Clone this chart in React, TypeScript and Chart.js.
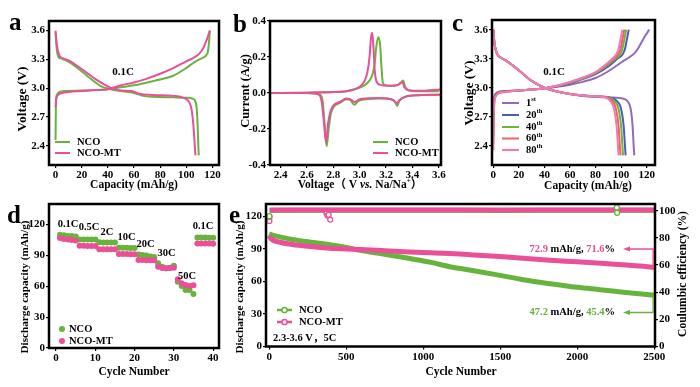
import React, { useEffect, useRef } from "react";
import { Chart, registerables } from "chart.js";

Chart.register(...registerables);

const FONT = "'Liberation Serif', 'Times New Roman', 'Noto Sans CJK SC', serif";
const GREEN = "#66b43c";
const PINK = "#ea4f98";
const C1 = "#8f6bbf";
const C20 = "#4a5cc0";
const C40 = "#68b834";
const C60 = "#f26060";
const C80 = "#f07ab5";

// ---------- Panel a: charge/discharge at 0.1C ----------
const aNcoChgCap = [0, 0.3, 1, 3, 10, 20, 30, 40, 50, 60, 70, 80, 90, 100, 105, 110, 113, 115, 116.5, 117.5, 118];
const aNcoChgV = [2.46, 2.85, 2.93, 2.96, 2.97, 2.975, 2.98, 2.99, 3.01, 3.03, 3.06, 3.09, 3.13, 3.21, 3.26, 3.3, 3.32, 3.34, 3.38, 3.5, 3.6];
const aMtChgCap = [0, 0.5, 2, 5, 10, 20, 30, 40, 50, 60, 70, 80, 90, 100, 106, 110, 113, 116, 118];
const aMtChgV = [2.8, 2.88, 2.93, 2.95, 2.96, 2.97, 2.98, 2.99, 3.03, 3.06, 3.1, 3.15, 3.21, 3.28, 3.32, 3.36, 3.42, 3.52, 3.6];
const aNcoDisCap = [0, 1, 2, 4, 8, 15, 25, 35, 42, 50, 60, 67, 75, 90, 100, 105, 107, 108, 108.7, 109.2, 109.5];
const aNcoDisV = [3.58, 3.4, 3.33, 3.31, 3.29, 3.23, 3.12, 3.02, 2.99, 2.97, 2.95, 2.92, 2.91, 2.905, 2.9, 2.89, 2.86, 2.78, 2.6, 2.4, 2.3];
const aMtDisCap = [0, 1, 3, 6, 10, 20, 30, 40, 48, 58, 65, 75, 90, 98, 102, 104, 105.5, 106.5, 107];
const aMtDisV = [3.6, 3.45, 3.34, 3.31, 3.29, 3.2, 3.1, 3.02, 2.98, 2.97, 2.94, 2.93, 2.92, 2.9, 2.86, 2.78, 2.6, 2.4, 2.3];
const aXTicks = [0, 20, 40, 60, 80, 100, 120];
const aYTicks = [2.4, 2.7, 3.0, 3.3, 3.6];

// ---------- Panel b: CV ----------
const bNcoAnoV = [2.3, 2.6, 2.8, 2.9, 2.95, 3.0, 3.05, 3.08, 3.1, 3.115, 3.125, 3.14, 3.155, 3.165, 3.175, 3.19, 3.25, 3.29, 3.31, 3.33, 3.345, 3.37, 3.45, 3.6];
const bNcoAnoI = [0, 0.002, 0.005, 0.01, 0.018, 0.03, 0.05, 0.075, 0.11, 0.17, 0.25, 0.31, 0.27, 0.15, 0.06, 0.045, 0.04, 0.045, 0.055, 0.07, 0.035, 0.015, 0.01, 0.01];
const bMtAnoV = [2.3, 2.6, 2.8, 2.9, 2.95, 3.0, 3.04, 3.06, 3.075, 3.085, 3.095, 3.105, 3.115, 3.13, 3.16, 3.2, 3.25, 3.29, 3.31, 3.325, 3.34, 3.37, 3.45, 3.62];
const bMtAnoI = [0, 0.002, 0.005, 0.01, 0.018, 0.035, 0.07, 0.12, 0.2, 0.3, 0.335, 0.25, 0.12, 0.06, 0.045, 0.04, 0.04, 0.045, 0.055, 0.06, 0.03, 0.015, 0.012, 0.02];
const bNcoCatV = [2.3, 2.6, 2.7, 2.72, 2.735, 2.75, 2.765, 2.78, 2.8, 2.85, 2.9, 2.93, 2.96, 2.99, 3.05, 3.15, 3.24, 3.27, 3.285, 3.3, 3.35, 3.45, 3.6];
const bNcoCatI = [0, 0, -0.01, -0.05, -0.18, -0.295, -0.2, -0.12, -0.08, -0.055, -0.035, -0.04, -0.065, -0.045, -0.035, -0.03, -0.035, -0.05, -0.072, -0.045, -0.02, -0.012, -0.01];
const bMtCatV = [2.3, 2.6, 2.68, 2.71, 2.73, 2.745, 2.76, 2.78, 2.8, 2.85, 2.9, 2.93, 2.96, 3.0, 3.05, 3.15, 3.24, 3.27, 3.28, 3.3, 3.35, 3.45, 3.62];
const bMtCatI = [0, 0, -0.005, -0.04, -0.17, -0.275, -0.17, -0.1, -0.07, -0.05, -0.03, -0.035, -0.05, -0.035, -0.03, -0.028, -0.035, -0.05, -0.06, -0.04, -0.02, -0.012, -0.01];
const bXTicks = [2.4, 2.6, 2.8, 3.0, 3.2, 3.4, 3.6];
const bYTicks = [-0.4, -0.2, 0, 0.2, 0.4];

// ---------- Panel c: cycles at 0.1C ----------
const c1ChgCap = [0, 0.5, 2, 5, 10, 20, 30, 40, 50, 60, 70, 80, 90, 100, 107, 110, 113, 116, 119, 122];
const c1ChgV = [2.75, 2.88, 2.94, 2.96, 2.965, 2.97, 2.98, 2.995, 3.01, 3.03, 3.06, 3.1, 3.17, 3.26, 3.32, 3.35, 3.4, 3.47, 3.54, 3.6];
const c20ChgCap = [0, 0.5, 2, 5, 10, 20, 30, 40, 50, 60, 70, 80, 91, 97, 101, 103, 104.5, 106];
const c20ChgV = [2.6, 2.85, 2.93, 2.955, 2.962, 2.97, 2.98, 2.995, 3.015, 3.045, 3.09, 3.14, 3.23, 3.3, 3.34, 3.4, 3.5, 3.6];
const c40ChgCap = [0, 0.5, 2, 5, 10, 20, 30, 40, 50, 60, 70, 80, 90, 95.5, 99, 101, 102.5, 104];
const c40ChgV = [2.5, 2.83, 2.92, 2.95, 2.96, 2.97, 2.98, 2.995, 3.02, 3.05, 3.095, 3.15, 3.24, 3.3, 3.34, 3.4, 3.5, 3.6];
const c60ChgCap = [0, 0.5, 2, 5, 10, 20, 30, 40, 50, 60, 70, 80, 89, 94, 97.5, 99.5, 101, 102.5];
const c60ChgV = [2.42, 2.8, 2.92, 2.95, 2.96, 2.97, 2.98, 2.995, 3.02, 3.055, 3.1, 3.155, 3.24, 3.3, 3.34, 3.4, 3.5, 3.6];
const c80ChgCap = [0, 0.5, 2, 5, 10, 20, 30, 40, 50, 60, 70, 80, 88, 93, 96, 98, 99.5, 101];
const c80ChgV = [2.35, 2.78, 2.91, 2.945, 2.955, 2.97, 2.98, 2.995, 3.02, 3.06, 3.105, 3.16, 3.24, 3.3, 3.34, 3.4, 3.5, 3.6];
const c1DisCap = [0, 1, 3, 6, 10, 20, 30, 40, 50, 60, 70, 80, 90, 100, 105, 107.5, 109, 109.8, 110.3];
const c1DisV = [3.6, 3.45, 3.35, 3.31, 3.28, 3.18, 3.07, 3.0, 2.96, 2.935, 2.915, 2.905, 2.9, 2.89, 2.86, 2.78, 2.6, 2.4, 2.3];
const c20DisCap = [0, 1, 3, 6, 10, 20, 30, 40, 50, 60, 70, 80, 90, 96, 100, 102, 103, 103.5];
const c20DisV = [3.6, 3.45, 3.35, 3.31, 3.28, 3.18, 3.07, 3.0, 2.96, 2.935, 2.92, 2.91, 2.9, 2.87, 2.78, 2.6, 2.4, 2.3];
const c40DisCap = [0, 1, 3, 6, 10, 20, 30, 40, 50, 60, 70, 80, 89, 94, 98, 100, 101, 101.5];
const c40DisV = [3.6, 3.45, 3.35, 3.31, 3.28, 3.18, 3.07, 3.0, 2.96, 2.935, 2.92, 2.91, 2.9, 2.87, 2.78, 2.6, 2.4, 2.3];
const c60DisCap = [0, 1, 3, 6, 10, 20, 30, 40, 50, 60, 70, 80, 88, 92.5, 96, 98, 99, 99.5];
const c60DisV = [3.6, 3.45, 3.35, 3.31, 3.28, 3.18, 3.07, 3.0, 2.96, 2.935, 2.92, 2.91, 2.9, 2.87, 2.78, 2.6, 2.4, 2.3];
const c80DisCap = [0, 1, 3, 6, 10, 20, 30, 40, 50, 60, 70, 80, 87, 91, 94.5, 96.5, 97.5, 98];
const c80DisV = [3.6, 3.45, 3.35, 3.31, 3.28, 3.18, 3.07, 3.0, 2.96, 2.935, 2.92, 2.91, 2.9, 2.87, 2.78, 2.6, 2.4, 2.3];
const cXTicks = [0, 20, 40, 60, 80, 100, 120];
const cYTicks = [2.4, 2.7, 3.0, 3.3, 3.6];

// ---------- Panel d: rate performance ----------
const dCycles = [1, 2, 3, 4, 5, 6, 7, 8, 9, 10, 11, 12, 13, 14, 15, 16, 17, 18, 19, 20, 21, 22, 23, 24, 25, 26, 27, 28, 29, 30, 31, 32, 33, 34, 35, 36, 37, 38, 39, 40];
const dNco = [110, 109.5, 109, 109, 108.5, 105.6, 105.5, 105.5, 105.4, 105.4, 102.7, 102.6, 102.6, 102.5, 102.5, 97.5, 97.4, 97.4, 97.3, 97.3, 91, 90.5, 90, 89, 88.5, 82.3, 79, 77.5, 78, 80, 64.5, 60.3, 56.4, 56.4, 52.6, 107.5, 107.4, 107.4, 107.3, 107.3];
const dMt = [107, 106, 105.5, 105, 104.5, 99.3, 99.3, 99.2, 99.2, 99.1, 96.1, 96.1, 96, 96, 96, 91.3, 91.3, 91.3, 91.2, 91.2, 85.5, 85.5, 85.4, 85.4, 85.3, 79, 77.8, 77.6, 77.8, 78, 66.8, 62.9, 61.3, 60.3, 61, 101.6, 101.6, 101.5, 101.5, 101.4];
const dRateLabels = ["0.1C", "0.5C", "2C", "10C", "20C", "30C", "50C", "0.1C"];
const dXTicks = [0, 10, 20, 30, 40];
const dYTicks = [0, 30, 60, 90, 120];

// ---------- Panel e: long cycling at 5C ----------
const eNcoCycles = [0, 20, 70, 150, 250, 373, 500, 589, 750, 914, 1050, 1174, 1300, 1499, 1650, 1824, 2000, 2149, 2300, 2500];
const eNcoCap = [104, 102.5, 101, 98.5, 96.5, 94.2, 91.3, 88.6, 85, 81, 77.5, 73.5, 70.5, 65.5, 61.5, 57.8, 54.5, 52.3, 50, 47.2];
const eMtCycles = [0, 10, 70, 150, 250, 373, 500, 589, 750, 914, 1050, 1174, 1300, 1500, 1824, 2000, 2200, 2474, 2500];
const eMtCap = [102, 99.5, 96, 94, 92.3, 90.7, 89.8, 89.3, 88.2, 87, 86.3, 85.6, 84.6, 82.8, 79.4, 78, 76.2, 73.3, 72.9];
const eCeCycles = [3, 500, 1000, 1500, 2000, 2500];
const eNcoCe = [100.3, 100.4, 100.4, 100.3, 100.4, 100.4];
const eMtCe = [100.5, 100.5, 100.5, 100.5, 100.5, 100.5];
const eMtCeOutCycles = [1, 2, 372, 378, 386, 396];
const eMtCeOut = [92.5, 95.5, 98, 96.5, 97, 93.5];
const eNcoCeOutCycles = [1, 2257, 2259];
const eNcoCeOut = [96, 102.5, 98.5];
const eXTicks = [0, 500, 1000, 1500, 2000, 2500];
const eYTicks = [0, 30, 60, 90, 120];
const eY2Ticks = [0, 20, 40, 60, 80, 100];

// ---------- helpers ----------
type Part = { t: string; c?: string; i?: boolean; sup?: boolean };

function drawRich(ctx: CanvasRenderingContext2D, parts: Part[], x: number, y: number, size: number, align = "left", rot = 0, base: CanvasTextBaseline = "middle") {
  ctx.save();
  ctx.translate(x, y);
  if (rot) ctx.rotate(rot);
  ctx.textBaseline = base;
  ctx.textAlign = "left";
  const fontFor = (p: Part) => `${p.i ? "italic " : ""}bold ${p.sup ? size * 0.62 : size}px ${FONT}`;
  let w = 0;
  for (const p of parts) {
    ctx.font = fontFor(p);
    w += ctx.measureText(p.t).width;
  }
  let cx = align === "left" ? 0 : align === "center" ? -w / 2 : -w;
  for (const p of parts) {
    ctx.font = fontFor(p);
    ctx.fillStyle = p.c || "#000";
    ctx.fillText(p.t, cx, p.sup ? -size * 0.32 : 0);
    cx += ctx.measureText(p.t).width;
  }
  ctx.restore();
}

function txt(ctx: CanvasRenderingContext2D, t: string, x: number, y: number, size: number, align = "left", rot = 0) {
  drawRich(ctx, [{ t }], x, y, size, align, rot);
}

function axis(pos: string, min: number, max: number, ticks: number[], fmt: (v: number) => string, thick: number) {
  const vertical = pos === "left" || pos === "right";
  return {
    type: "linear",
    position: pos,
    min,
    max,
    afterBuildTicks: (s: any) => {
      s.ticks = ticks.map((v) => ({ value: v }));
    },
    afterFit: (s: any) => {
      if (vertical) s.width = thick;
      else s.height = thick;
    },
    ticks: {
      callback: (v: any) => fmt(Number(v)),
      font: { family: FONT, weight: "bold", size: 11 },
      color: "#000",
      padding: 1,
      maxRotation: 0,
      autoSkip: false,
    },
    grid: { display: true, drawOnChartArea: false, drawTicks: true, tickLength: 3, color: "#000", lineWidth: 1.2 },
    border: { display: false },
  };
}

function curve(xs: number[], ys: number[], color: string, width = 2, extra: any = {}) {
  return {
    data: xs.map((x, i) => ({ x, y: ys[i] })),
    showLine: true,
    borderColor: color,
    backgroundColor: color,
    borderWidth: width,
    pointRadius: 0,
    cubicInterpolationMode: "monotone",
    fill: false,
    ...extra,
  };
}

function dots(xs: number[], ys: number[], color: string, extra: any = {}) {
  return {
    data: xs.map((x, i) => ({ x, y: ys[i] })),
    showLine: false,
    borderColor: color,
    backgroundColor: color,
    pointRadius: 3,
    borderWidth: 0,
    ...extra,
  };
}

function frame(chart: any) {
  const { ctx, chartArea: a } = chart;
  ctx.save();
  ctx.strokeStyle = "#000";
  ctx.lineWidth = 2.5;
  ctx.strokeRect(a.left, a.top, a.right - a.left, a.bottom - a.top);
  ctx.restore();
}

function legendLine(ctx: CanvasRenderingContext2D, x1: number, x2: number, y: number, color: string, label: Part[], width = 2, marker = false) {
  ctx.save();
  ctx.strokeStyle = color;
  ctx.lineWidth = width;
  ctx.beginPath();
  ctx.moveTo(x1, y);
  ctx.lineTo(x2, y);
  ctx.stroke();
  if (marker) {
    ctx.fillStyle = "#fff";
    ctx.lineWidth = 1.5;
    ctx.beginPath();
    ctx.arc((x1 + x2) / 2, y, 2.6, 0, Math.PI * 2);
    ctx.fill();
    ctx.stroke();
  }
  ctx.restore();
  drawRich(ctx, label, x2 + 7, y, 10.5, "left");
}

function legendDot(ctx: CanvasRenderingContext2D, x: number, y: number, color: string, label: string) {
  ctx.save();
  ctx.fillStyle = color;
  ctx.beginPath();
  ctx.arc(x, y, 3, 0, Math.PI * 2);
  ctx.fill();
  ctx.restore();
  txt(ctx, label, x + 7, y, 10.5, "left");
}

function letter(ctx: CanvasRenderingContext2D, t: string, x: number, y: number) {
  drawRich(ctx, [{ t }], x, y, 25, "left", 0, "alphabetic");
}

const f1 = (v: number) => v.toFixed(1);
const f0 = (v: number) => String(Math.round(v));
const UP = -Math.PI / 2;

function makeConfig(padding: any, scales: any, datasets: any[], deco: (ctx: CanvasRenderingContext2D, chart: any) => void) {
  return {
    type: "scatter",
    data: { datasets },
    options: {
      responsive: false,
      animation: false,
      devicePixelRatio: 1,
      events: [],
      layout: { padding },
      plugins: { legend: { display: false }, tooltip: { enabled: false }, title: { display: false } },
      scales,
    },
    plugins: [
      {
        id: "deco",
        afterDraw: (chart: any) => {
          frame(chart);
          deco(chart.ctx, chart);
        },
      },
    ],
  };
}

// ---------- panel configs ----------
function configA() {
  return makeConfig(
    { left: 19, top: 21, right: 481, bottom: 197 },
    { x: axis("bottom", -5, 125, aXTicks, f0, 25), y: axis("left", 2.2, 3.7, aYTicks, f1, 30) },
    [
      curve(aMtChgCap, aMtChgV, PINK),
      curve(aMtDisCap, aMtDisV, PINK),
      curve(aNcoChgCap, aNcoChgV, GREEN),
      curve(aNcoDisCap, aNcoDisV, GREEN),
    ],
    (ctx) => {
      letter(ctx, "a", 9, 29.5);
      txt(ctx, "Voltage (V)", 23, 99, 13.5, "center", UP);
      txt(ctx, "Capacity (mAh/g)", 134, 185, 11.5, "center");
      txt(ctx, "0.1C", 123, 72, 11, "center");
      legendLine(ctx, 55, 70, 142, GREEN, [{ t: "NCO" }]);
      legendLine(ctx, 55, 70, 153, PINK, [{ t: "NCO-MT" }]);
    }
  );
}

function configB() {
  return makeConfig(
    { left: 240, top: 21, right: 259, bottom: 197 },
    { x: axis("bottom", 2.32, 3.617, bXTicks, f1, 25), y: axis("left", -0.4, 0.4, bYTicks, f1, 30) },
    [
      curve(bMtAnoV, bMtAnoI, PINK),
      curve(bMtCatV, bMtCatI, PINK),
      curve(bNcoAnoV, bNcoAnoI, GREEN),
      curve(bNcoCatV, bNcoCatI, GREEN),
    ],
    (ctx) => {
      letter(ctx, "b", 233, 31.5);
      txt(ctx, "Current (A/g)", 246, 91, 12.5, "center", UP);
      drawRich(
        ctx,
        [{ t: "Voltage（ V " }, { t: "vs.", i: true }, { t: " Na/Na" }, { t: "+", sup: true }, { t: "）" }],
        360,
        185,
        11.5,
        "center"
      );
      legendLine(ctx, 373, 388, 142, GREEN, [{ t: "NCO" }]);
      legendLine(ctx, 373, 388, 153, PINK, [{ t: "NCO-MT" }]);
    }
  );
}

function configC() {
  return makeConfig(
    { left: 462, top: 20, right: 45, bottom: 197 },
    { x: axis("bottom", -1, 126.5, cXTicks, f0, 25), y: axis("left", 2.2, 3.7, cYTicks, f1, 30) },
    [
      curve(c80ChgCap, c80ChgV, C80),
      curve(c80DisCap, c80DisV, C80),
      curve(c60ChgCap, c60ChgV, C60),
      curve(c60DisCap, c60DisV, C60),
      curve(c40ChgCap, c40ChgV, C40),
      curve(c40DisCap, c40DisV, C40),
      curve(c20ChgCap, c20ChgV, C20),
      curve(c20DisCap, c20DisV, C20),
      curve(c1ChgCap, c1ChgV, C1),
      curve(c1DisCap, c1DisV, C1),
    ],
    (ctx) => {
      letter(ctx, "c", 452, 31);
      txt(ctx, "Voltage (V)", 470, 93, 13.5, "center", UP);
      txt(ctx, "Capacity (mAh/g)", 588, 186, 11.5, "center");
      txt(ctx, "0.1C", 554, 72, 11, "center");
      const items: [string, string, string][] = [
        ["1", "st", C1],
        ["20", "th", C20],
        ["40", "th", C40],
        ["60", "th", C60],
        ["80", "th", C80],
      ];
      const ys = [103, 115, 127, 138.5, 150];
      items.forEach(([n, s, col], i) => legendLine(ctx, 502, 519, ys[i], col, [{ t: n }, { t: s, sup: true }]));
    }
  );
}

function configD() {
  return makeConfig(
    { left: 19, top: 204, right: 481, bottom: 14 },
    { x: axis("bottom", -1.8, 41.5, dXTicks, f0, 25), y: axis("left", 0, 140, dYTicks, f0, 30) },
    [dots(dCycles, dMt, PINK), dots(dCycles, dNco, GREEN)],
    (ctx) => {
      letter(ctx, "d", 7, 223);
      txt(ctx, "Discharge capacity (mAh/g)", 25, 287, 11.2, "center", UP);
      txt(ctx, "Cycle Number", 134, 372, 11.5, "center");
      const pos: [number, number][] = [
        [68, 224],
        [89, 227.5],
        [107, 232],
        [126.5, 237.5],
        [145.5, 244],
        [166.5, 253],
        [187, 276],
        [203, 226],
      ];
      dRateLabels.forEach((l, i) => txt(ctx, l, pos[i][0], pos[i][1], 10.5, "center"));
      legendDot(ctx, 62, 329, GREEN, "NCO");
      legendDot(ctx, 62, 341, PINK, "NCO-MT");
    }
  );
}

function configE() {
  return makeConfig(
    { left: 236, top: 204, right: 20, bottom: 15.5 },
    {
      x: axis("bottom", -21, 2505, eXTicks, f0, 25),
      y: axis("left", 0, 131.25, eYTicks, f0, 30),
      y2: axis("right", 0, 105, eY2Ticks, f0, 25),
    },
    [
      dots(eNcoCeOutCycles, eNcoCeOut, GREEN, { yAxisID: "y2", pointRadius: 2.5, borderWidth: 1.3, backgroundColor: "#fff" }),
      dots(eMtCeOutCycles, eMtCeOut, PINK, { yAxisID: "y2", pointRadius: 2.5, borderWidth: 1.3, backgroundColor: "#fff" }),
      curve(eCeCycles, eMtCe, PINK, 5, { yAxisID: "y2" }),
      curve(eCeCycles, eNcoCe, GREEN, 5, { yAxisID: "y2" }),
      curve(eMtCycles, eMtCap, PINK, 5),
      curve(eNcoCycles, eNcoCap, GREEN, 5),
    ],
    (ctx, chart) => {
      letter(ctx, "e", 229, 223);
      txt(ctx, "Discharge capacity (mAh/g)", 240, 287, 11.2, "center", UP);
      txt(ctx, "Coulumbic efficiency (%)", 683, 274, 11.5, "center", UP);
      txt(ctx, "Cycle Number", 461, 372, 11.5, "center");
      legendLine(ctx, 277, 292, 310, GREEN, [{ t: "NCO" }], 2.5, true);
      legendLine(ctx, 277, 292, 322, PINK, [{ t: "NCO-MT" }], 2.5, true);
      txt(ctx, "2.3-3.6 V，5C", 273, 338, 10.5, "left");

      const xs = chart.scales.x;
      const ys = chart.scales.y;
      const xEnd = xs.getPixelForValue(2500) - 1;
      const yMt = ys.getPixelForValue(eMtCap[eMtCap.length - 1]);
      const yNco = ys.getPixelForValue(eNcoCap[eNcoCap.length - 1]);
      const bracket = (yFrom: number, yTo: number, col: string) => {
        ctx.save();
        ctx.strokeStyle = col;
        ctx.fillStyle = col;
        ctx.lineWidth = 1.5;
        ctx.beginPath();
        ctx.moveTo(xEnd, yFrom);
        ctx.lineTo(xEnd, yTo);
        ctx.lineTo(628, yTo);
        ctx.stroke();
        ctx.beginPath();
        ctx.moveTo(623, yTo);
        ctx.lineTo(630, yTo - 2.5);
        ctx.lineTo(630, yTo + 2.5);
        ctx.closePath();
        ctx.fill();
        ctx.restore();
      };
      bracket(yMt, 249, PINK);
      bracket(yNco, 312.5, GREEN);
      drawRich(ctx, [{ t: "72.9", c: PINK }, { t: " mAh/g, " }, { t: "71.6", c: PINK }, { t: "%" }], 615, 249, 10.5, "right");
      drawRich(ctx, [{ t: "47.2", c: GREEN }, { t: " mAh/g, " }, { t: "45.4", c: GREEN }, { t: "%" }], 615, 312.5, 10.5, "right");
    }
  );
}

function Panel({ make }: { make: () => any }) {
  const ref = useRef<HTMLCanvasElement>(null);
  useEffect(() => {
    const chart = new Chart(ref.current as HTMLCanvasElement, make() as any);
    return () => chart.destroy();
  }, []);
  return (
    <canvas
      ref={ref}
      width={700}
      height={387}
      style={{ position: "absolute", left: 0, top: 0, width: 700, height: 387 }}
    />
  );
}

export default function App() {
  return (
    <div style={{ position: "absolute", left: 0, top: 0, width: 700, height: 387, background: "#fff", overflow: "hidden" }}>
      <Panel make={configA} />
      <Panel make={configB} />
      <Panel make={configC} />
      <Panel make={configD} />
      <Panel make={configE} />
    </div>
  );
}
